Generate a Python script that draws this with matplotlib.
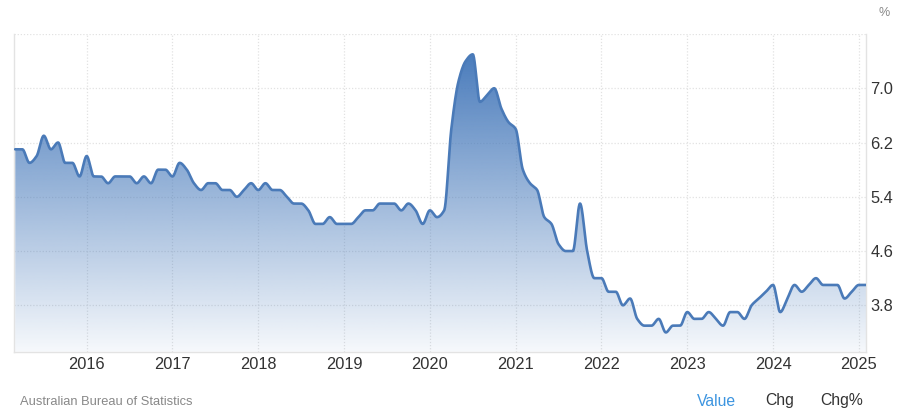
# Australian unemployment rate, monthly, Mar 2015 - Feb 2025
import matplotlib
matplotlib.use("Agg")
import matplotlib.pyplot as plt
import numpy as np

plt.rcParams['font.family'] = ['Liberation Sans', 'DejaVu Sans']

# data (monthly values, first month = Mar 2015)
start_year = 2015
start_month = 3
rate = [6.1, 6.1, 5.9, 6.0, 6.3, 6.1, 6.2, 5.9, 5.9, 5.7,
        6.0, 5.7, 5.7, 5.6, 5.7, 5.7, 5.7, 5.6, 5.7, 5.6, 5.8, 5.8,
        5.7, 5.9, 5.8, 5.6, 5.5, 5.6, 5.6, 5.5, 5.5, 5.4, 5.5, 5.6,
        5.5, 5.6, 5.5, 5.5, 5.4, 5.3, 5.3, 5.2, 5.0, 5.0, 5.1, 5.0,
        5.0, 5.0, 5.1, 5.2, 5.2, 5.3, 5.3, 5.3, 5.2, 5.3, 5.2, 5.0,
        5.2, 5.1, 5.2, 6.4, 7.1, 7.4, 7.5, 6.8, 6.9, 7.0, 6.7, 6.5,
        6.4, 5.8, 5.6, 5.5, 5.1, 5.0, 4.7, 4.6, 4.6, 5.3, 4.6, 4.2,
        4.2, 4.0, 4.0, 3.8, 3.9, 3.6, 3.5, 3.5, 3.6, 3.4, 3.5, 3.5,
        3.7, 3.6, 3.6, 3.7, 3.6, 3.5, 3.7, 3.7, 3.6, 3.8, 3.9, 4.0,
        4.1, 3.7, 3.9, 4.1, 4.0, 4.1, 4.2, 4.1, 4.1, 4.1, 3.9, 4.0,
        4.1, 4.1]
year_ticks = [2016, 2017, 2018, 2019, 2020, 2021, 2022, 2023, 2024, 2025]
y_ticks = [3.8, 4.6, 5.4, 6.2, 7.0, 7.8]
y_labels = ['3.8', '4.6', '5.4', '6.2', '7.0', '']
source = 'Australian Bureau of Statistics'
buttons = ['Value', 'Chg', 'Chg%']


def pchip(x, y, xn):
    # monotone cubic, keeps flat parts flat like the original spline
    h = np.diff(x)
    d = np.diff(y) / h
    m = np.zeros(len(x))
    m[0], m[-1] = d[0], d[-1]
    for k in range(1, len(x) - 1):
        if d[k - 1] * d[k] <= 0:
            m[k] = 0
        else:
            w1 = 2 * h[k] + h[k - 1]
            w2 = h[k] + 2 * h[k - 1]
            m[k] = (w1 + w2) / (w1 / d[k - 1] + w2 / d[k])
    idx = np.clip(np.searchsorted(x, xn) - 1, 0, len(x) - 2)
    t = (xn - x[idx]) / h[idx]
    h00 = 2 * t**3 - 3 * t**2 + 1
    h10 = t**3 - 2 * t**2 + t
    h01 = -2 * t**3 + 3 * t**2
    h11 = t**3 - t**2
    return (h00 * y[idx] + h10 * h[idx] * m[idx]
            + h01 * y[idx + 1] + h11 * h[idx] * m[idx + 1])


x = start_year + (start_month - 1 + np.arange(len(rate))) / 12.0
y = np.array(rate)
xs = np.linspace(x[0], x[-1], 3000)
ys = pchip(x, y, xs)

x0, x1 = 2015.153, 2025.083
y0, y1 = 3.116, 7.8

fig = plt.figure(figsize=(9, 4.18), dpi=100)
ax = fig.add_axes([14 / 900, 66.3 / 418, 852 / 900, 317.7 / 418])

line_col = '#4a7ab8'
base = np.array([74, 124, 188]) / 255.0

# gradient fill under the line
n = 256
yy = np.linspace(y0, y1, n)
frac = np.clip((yy - y0) / (y.max() - y0), 0, 1)
alpha = 0.05 + 0.95 * frac
grad = np.zeros((n, 2, 4))
grad[:, :, :3] = base
grad[:, :, 3] = alpha[:, None]
im = ax.imshow(grad, extent=[x0, x1, y0, y1], origin='lower',
               aspect='auto', interpolation='bilinear', zorder=1)
poly = ax.fill_between(xs, ys, y0, facecolor='none', edgecolor='none')
im.set_clip_path(poly.get_paths()[0], transform=ax.transData)

ax.plot(xs, ys, color=line_col, lw=1.9, zorder=3, solid_capstyle='round')

ax.set_xlim(x0, x1)
ax.set_ylim(y0, y1)

ax.set_xticks(year_ticks)
ax.set_xticklabels([str(v) for v in year_ticks])
ax.set_yticks(y_ticks)
ax.set_yticklabels(y_labels)
ax.yaxis.tick_right()
ax.tick_params(axis='x', length=0, pad=4, labelsize=11.8, labelcolor='#333333')
ax.tick_params(axis='y', length=0, pad=3, labelsize=11.8, labelcolor='#333333')

ax.grid(True, color='#e2e2e2', linestyle=(0, (1, 1.5)), lw=0.9, zorder=0)
ax.set_axisbelow(True)

for s in ['left', 'bottom', 'right']:
    ax.spines[s].set_color('#e3e3e3')
    ax.spines[s].set_linewidth(1)
ax.spines['top'].set_visible(False)

fig.text(884 / 900, 1 - 13 / 418, '%', fontsize=9, color='#888888',
         ha='center', va='center')
fig.text(20 / 900, 1 - 402 / 418, source, fontsize=9.3, color='#888888',
         ha='left', va='center')
fig.text(697 / 900, 1 - 401 / 418, buttons[0], fontsize=11.3, color='#3d95e0',
         ha='left', va='center')
fig.text(765 / 900, 1 - 401 / 418, buttons[1], fontsize=11.3, color='#333333',
         ha='left', va='center')
fig.text(820 / 900, 1 - 401 / 418, buttons[2], fontsize=11.3, color='#333333',
         ha='left', va='center')

fig.savefig('out.png', dpi=100)
